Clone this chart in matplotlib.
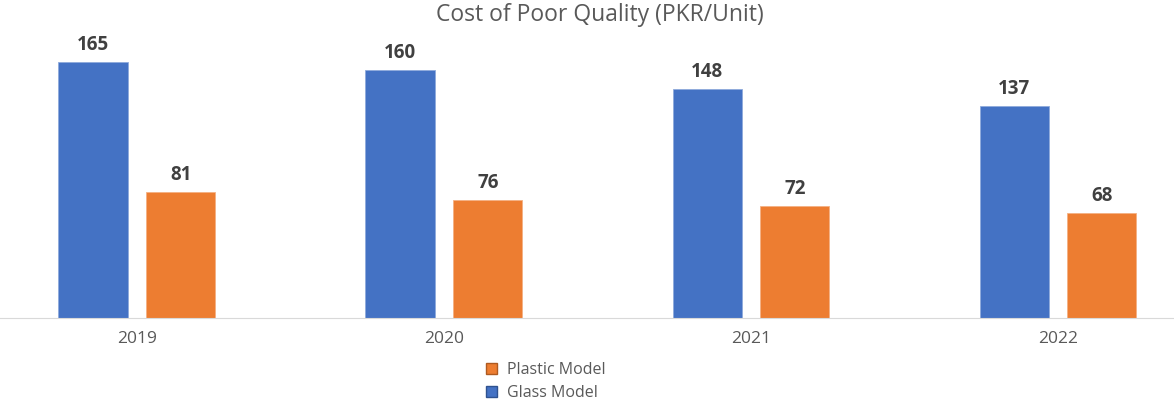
import numpy as np
import matplotlib.pyplot as plt
from matplotlib.patches import Patch

years = ['2019', '2020', '2021', '2022']
glass = [165, 160, 148, 137]
plastic = [81, 76, 72, 68]

blue = '#4472C4'
orange = '#ED7D31'
txt = '#595959'

plt.rcParams['font.family'] = ['Open Sans', 'DejaVu Sans']

fig = plt.figure(figsize=(11.74, 4.05), dpi=100)
ax = fig.add_axes([0, 0.2148, 1, 0.689])

x = np.arange(len(years))
w = 0.225
off = 0.143

b1 = ax.bar(x - off, glass, w, color=blue, edgecolor='#8FAADC', linewidth=0.6)
b2 = ax.bar(x + off, plastic, w, color=orange, edgecolor='#F4B183', linewidth=0.6)

for bars in (b1, b2):
    for b in bars:
        ax.annotate(str(int(b.get_height())), (b.get_x() + b.get_width() / 2, b.get_height()),
                    xytext=(0, 5), textcoords='offset points', ha='center', va='bottom',
                    fontsize=13.5, fontweight='bold', color='#404040')

ax.set_xlim(-0.446, 3.378)
ax.set_ylim(0, 180)
ax.set_xticks(x)
ax.set_xticklabels(years, fontsize=12.5, color=txt)
ax.tick_params(axis='x', length=0, pad=9)
ax.set_yticks([])
for s in ['top', 'left', 'right']:
    ax.spines[s].set_visible(False)
ax.spines['bottom'].set_color('#D9D9D9')

fig.text(0.511, 0.962, 'Cost of Poor Quality (PKR/Unit)', ha='center', va='center',
         fontsize=16.5, color=txt)

handles = [Patch(facecolor=orange, edgecolor='#AE5A21', label='Plastic Model'),
           Patch(facecolor=blue, edgecolor='#2F528F', label='Glass Model')]
fig.legend(handles=handles, loc='center', bbox_to_anchor=(0.465, 0.058), ncol=1,
           frameon=False, fontsize=11.5, labelcolor=txt, handlelength=0.7, handleheight=0.7,
           handletextpad=0.6, labelspacing=0.45, borderpad=0)

fig.savefig('out.png', dpi=100)
